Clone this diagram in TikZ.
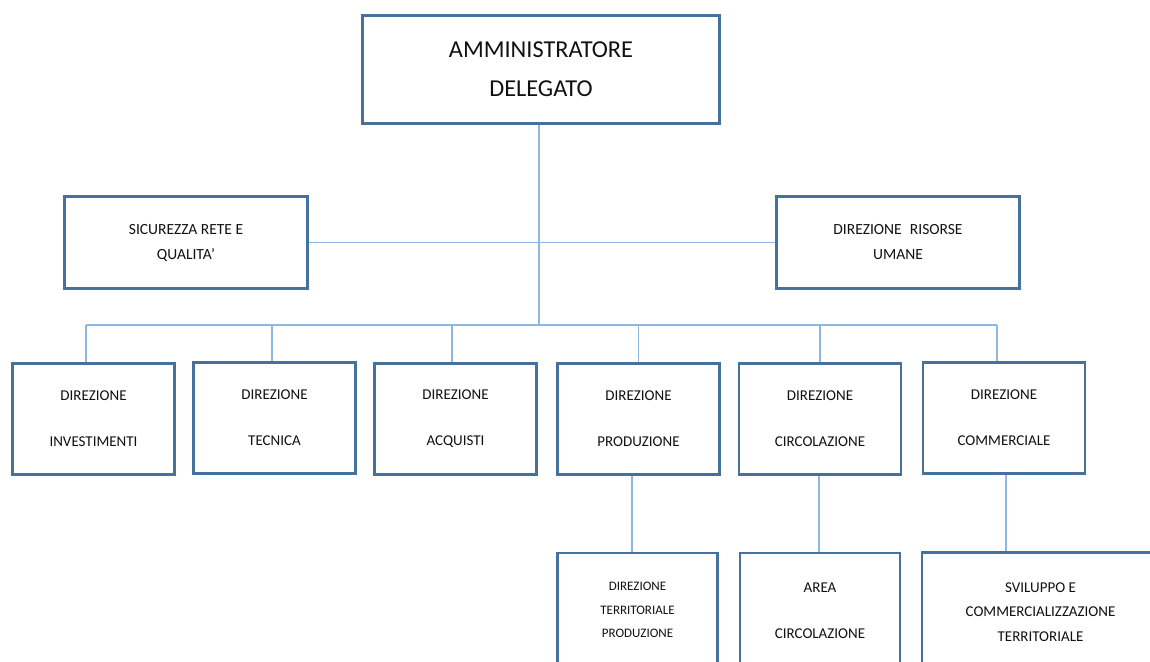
\documentclass[tikz,border=0pt]{standalone}
\usepackage{fontspec}
\setmainfont{Carlito}
\definecolor{boxblue}{HTML}{46719D}
\definecolor{linkblue}{HTML}{8DB8E3}
\definecolor{ink}{HTML}{111111}

\begin{document}
\begin{tikzpicture}[x=1pt,y=-1pt,
  unit/.style={draw=boxblue, line width=2.6pt, fill=white, inner sep=0pt,
               align=center, text=ink},
  topunit/.style={unit, minimum width=357, minimum height=108,
                  font=\fontsize{24.3}{39}\selectfont},
  staffunit/.style={unit, minimum width=243, minimum height=92,
                    font=\fontsize{15.5}{25}\selectfont},
  deptunit/.style={unit, minimum width=162, minimum height=111,
                   font=\fontsize{15}{46}\selectfont},
  subunit/.style={unit, minimum width=160, minimum height=114},
  link/.style={draw=linkblue, line width=1.1pt}]

\useasboundingbox (0,0) rectangle (1150,661);
\clip (0,0) rectangle (1150,661);

% top management
\node[topunit] (ad) at (541,69.5) {AMMINISTRATORE\\DELEGATO};

% staff functions
\node[staffunit] (sic) at (186,242.5) {SICUREZZA RETE E\\QUALITA’};
\node[staffunit] (hr)  at (898,242.5) {DIREZIONE\hspace{0.3em} RISORSE\\UMANE};

% line departments
\node[deptunit] (inv)  at (93.5,419)  {DIREZIONE\\INVESTIMENTI};
\node[deptunit] (tec)  at (274.5,418) {DIREZIONE\\TECNICA};
\node[deptunit] (acq)  at (455.5,419) {DIREZIONE\\ACQUISTI};
\node[deptunit] (prod) at (638.5,419) {DIREZIONE\\PRODUZIONE};
\node[deptunit] (circ) at (820,419)   {DIREZIONE\\CIRCOLAZIONE};
\node[deptunit] (comm) at (1004,418)  {DIREZIONE\\COMMERCIALE};

% second-level units
\node[subunit, font=\fontsize{13}{23.5}\selectfont] (dtp) at (637.5,610)
  {DIREZIONE\\TERRITORIALE\\PRODUZIONE};
\node[subunit, minimum height=116, font=\fontsize{15}{46}\selectfont] (area) at (820,611)
  {AREA\\CIRCOLAZIONE};
\node[subunit, minimum width=237, minimum height=119, font=\fontsize{15}{24.5}\selectfont] (svil) at (1040.5,612)
  {SVILUPPO E\\COMMERCIALIZZAZIONE\\TERRITORIALE};

% connectors
\coordinate (bus) at (539,325);
\draw[link] ([xshift=-2]ad.south) -- ([xshift=-2]ad.south |- bus);
\draw[link] (sic.east) -- (hr.west);
\draw[link] ([xshift=-7.5]inv.north |- bus) -- ([xshift=-7]comm.north |- bus);
\draw[link] ([xshift=-7.5]inv.north) -- ([xshift=-7.5]inv.north |- bus);
\draw[link] ([xshift=-2.5]tec.north) -- ([xshift=-2.5]tec.north |- bus);
\draw[link] ([xshift=-3.5]acq.north) -- ([xshift=-3.5]acq.north |- bus);
\draw[link] (prod.north) -- (prod.north |- bus);
\draw[link] (circ.north) -- (circ.north |- bus);
\draw[link] ([xshift=-7]comm.north) -- ([xshift=-7]comm.north |- bus);

\draw[link] ([xshift=-6.5]prod.south) -- ([xshift=-6.5]prod.south |- dtp.north);
\draw[link] ([xshift=-1]circ.south) -- ([xshift=-1]circ.south |- area.north);
\draw[link] ([xshift=2]comm.south) -- ([xshift=2]comm.south |- svil.north);
\end{tikzpicture}
\end{document}
